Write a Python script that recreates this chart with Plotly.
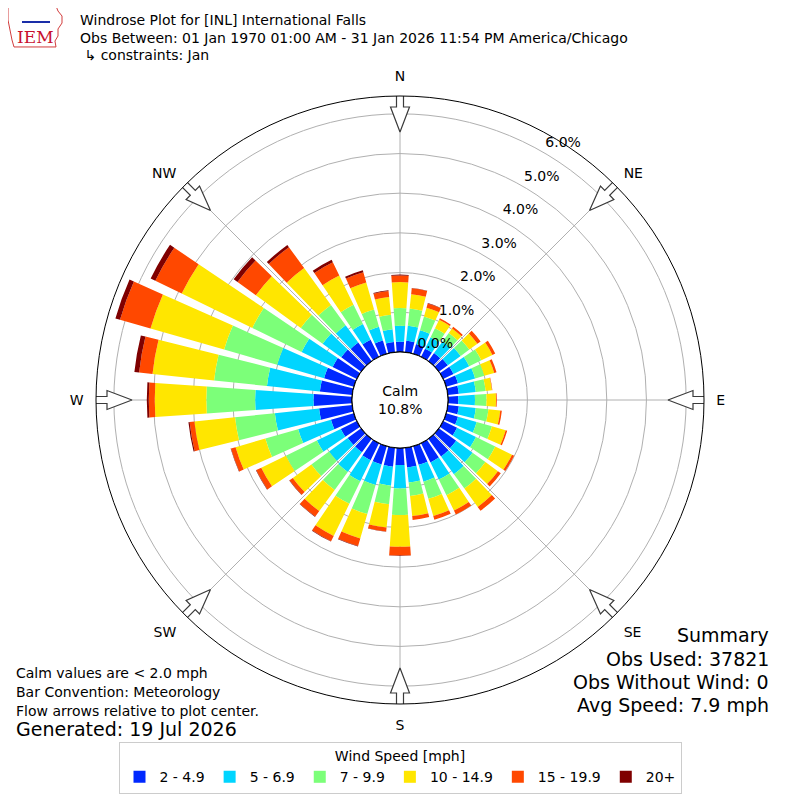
import numpy as np
import plotly.graph_objects as go

# wind direction bins (degrees, meteorological: direction wind blows from)
directions = list(range(0, 360, 10))

speed_bins = ["2 - 4.9", "5 - 6.9", "7 - 9.9", "10 - 14.9", "15 - 19.9", "20+"]
bin_colors = ["#0028ff", "#00d5ff", "#7cff79", "#ffe600", "#ff4800", "#7f0000"]

# frequency [%] for each speed bin, one value per direction (0, 10, ... 350)
freq_2_5 = [0.26, 0.29, 0.26, 0.23, 0.25, 0.28, 0.29, 0.31, 0.28, 0.26, 0.28, 0.31,
            0.39, 0.54, 0.55, 0.54, 0.49, 0.50, 0.43, 0.48, 0.48, 0.48, 0.42, 0.42,
            0.45, 0.60, 0.84, 0.97, 0.82, 0.78, 0.68, 0.62, 0.58, 0.48, 0.35, 0.26]
freq_5_7 = [0.40, 0.38, 0.36, 0.32, 0.37, 0.40, 0.44, 0.45, 0.43, 0.42, 0.43, 0.49,
            0.53, 0.51, 0.55, 0.48, 0.44, 0.38, 0.59, 0.48, 0.54, 0.59, 0.61, 0.58,
            0.67, 0.86, 1.12, 1.47, 1.34, 1.23, 0.87, 0.58, 0.54, 0.44, 0.36, 0.32]
freq_7_10 = [0.45, 0.44, 0.36, 0.25, 0.26, 0.27, 0.34, 0.24, 0.25, 0.29, 0.32, 0.40,
             0.54, 0.40, 0.45, 0.44, 0.45, 0.34, 0.67, 0.47, 0.76, 0.63, 0.56, 0.55,
             0.87, 0.86, 1.01, 1.23, 1.34, 1.39, 1.38, 0.68, 0.63, 0.54, 0.45, 0.37]
freq_10_15 = [0.65, 0.36, 0.23, 0.24, 0.14, 0.25, 0.31, 0.26, 0.16, 0.24, 0.30, 0.36,
              0.47, 0.39, 0.57, 0.43, 0.45, 0.51, 0.80, 0.59, 0.64, 0.90, 0.66, 0.58,
              0.69, 0.78, 1.03, 1.30, 1.56, 1.93, 1.98, 1.40, 1.15, 0.82, 0.71, 0.45]
freq_15_20 = [0.17, 0.15, 0.11, 0.04, 0.05, 0.10, 0.08, 0.06, 0.01, 0.02, 0.04, 0.04,
              0.06, 0.09, 0.12, 0.11, 0.10, 0.10, 0.22, 0.10, 0.20, 0.15, 0.17, 0.10,
              0.14, 0.12, 0.12, 0.15, 0.34, 0.80, 0.74, 0.57, 0.65, 0.37, 0.27, 0.15]
freq_20_up = [0.02, 0.01, 0.01, 0.00, 0.00, 0.00, 0.00, 0.00, 0.00, 0.00, 0.00, 0.00,
              0.00, 0.00, 0.00, 0.00, 0.00, 0.00, 0.01, 0.01, 0.01, 0.01, 0.01, 0.01,
              0.01, 0.01, 0.03, 0.05, 0.12, 0.12, 0.13, 0.12, 0.07, 0.07, 0.05, 0.02]

radial_ticks = [0, 1, 2, 3, 4, 5, 6]
radial_labels = ["0.0%", "1.0%", "2.0%", "3.0%", "4.0%", "5.0%", "6.0%"]

compass_angles = [0, 45, 90, 135, 180, 225, 270, 315]
compass_labels = ["N", "NE", "E", "SE", "S", "SW", "W", "NW"]

calm_pct = 10.8
R_MAX = 6.45          # radial range shown [%]
HOLE = 0.158          # calm hub as fraction of the radius
HUB_PX = 48.0
PX_PER_PCT = (304.0 - HUB_PX) / R_MAX
PAGE_MARGIN = 8       # browser body margin around the plot div

all_bins = [freq_2_5, freq_5_7, freq_7_10, freq_10_15, freq_15_20, freq_20_up]

fig = go.Figure()

for name, color, vals in zip(speed_bins, bin_colors, all_bins):
    fig.add_trace(go.Barpolar(
        r=vals, theta=directions, width=8,
        name=name, marker=dict(color=color, line=dict(width=0)),
        hoverinfo="skip",
    ))

# black edge of the calm hub
hub_theta = np.linspace(0, 360, 181)
fig.add_trace(go.Scatterpolar(
    r=np.zeros_like(hub_theta), theta=hub_theta, mode="lines",
    line=dict(color="black", width=1.2), showlegend=False, hoverinfo="skip",
))


def px_to_r(p):
    return (p - HUB_PX) / PX_PER_PCT


# hollow flow arrows at the compass points (pixel outline: radial, lateral)
arrow_outline = [(306, -3.5), (293, -3.5), (293, -9.5), (268, 0), (293, 9.5),
                 (293, 3.5), (306, 3.5), (306, -3.5)]
for ang in compass_angles:
    rr = [px_to_r(np.hypot(s, w)) for s, w in arrow_outline]
    tt = [ang + np.degrees(np.arctan2(w, s)) for s, w in arrow_outline]
    fig.add_trace(go.Scatterpolar(
        r=rr, theta=tt, mode="lines", fill="toself", fillcolor="white",
        line=dict(color="#3a3a3a", width=1.2), showlegend=False,
        hoverinfo="skip", cliponaxis=False,
    ))

# radial tick labels
fig.add_trace(go.Scatterpolar(
    r=[v + 0.44 for v in radial_ticks], theta=[32.5] * len(radial_ticks),
    mode="text", text=radial_labels, textfont=dict(size=14, color="black"),
    showlegend=False, hoverinfo="skip", cliponaxis=False,
))


def px(x, y):
    # reference pixel position -> paper coordinates
    return (x - PAGE_MARGIN) / 800.0, 1 - (y - PAGE_MARGIN) / 800.0


cx, cy = px(400, 400)
rad = 304.0 / 800.0

fig.update_layout(
    width=800, height=800,
    margin=dict(l=0, r=0, t=0, b=0),
    paper_bgcolor="white",
    font=dict(family="DejaVu Sans", size=14, color="black"),
    polar=dict(
        domain=dict(x=[cx - rad, cx + rad], y=[cy - rad, cy + rad]),
        hole=HOLE,
        bgcolor="white",
        barmode="stack",
        radialaxis=dict(
            range=[0, R_MAX], tickvals=radial_ticks[1:], showticklabels=False,
            ticks="", showline=False, gridcolor="#b0b0b0", gridwidth=1,
        ),
        angularaxis=dict(
            direction="clockwise", rotation=90,
            tickmode="array", tickvals=compass_angles, ticktext=compass_labels,
            ticks="outside", ticklen=9, tickcolor="rgba(0,0,0,0)",
            tickfont=dict(size=14),
            showline=True, linecolor="black", linewidth=1,
            gridcolor="#b0b0b0", gridwidth=1,
        ),
    ),
    legend=dict(
        orientation="h", x=px(400, 742)[0], xanchor="center",
        y=px(400, 742)[1], yanchor="top",
        bgcolor="white", bordercolor="#cccccc", borderwidth=1,
        font=dict(size=14),
        title=dict(text="Wind Speed [mph]", side="top center", font=dict(size=14)),
    ),
)


def add_text(text, x, y, size=14, anchor="left", **kw):
    ax, ay = px(x, y)
    fig.add_annotation(text=text, x=ax, y=ay, xref="paper", yref="paper",
                       xanchor=anchor, yanchor="middle", showarrow=False,
                       font=dict(size=size, **kw))


add_text("Windrose Plot for [INL] International Falls", 78, 20)
add_text("Obs Between: 01 Jan 1970 01:00 AM - 31 Jan 2026 11:54 PM America/Chicago", 78, 38)
add_text(" \u21b3 constraints: Jan", 78, 55)

fig.add_annotation(text="Calm<br>%.1f%%" % calm_pct, x=cx, y=cy, xref="paper", yref="paper",
                   showarrow=False, align="center", font=dict(size=14))

add_text("Calm values are < 2.0 mph", 14, 673)
add_text("Bar Convention: Meteorology", 14, 692)
add_text("Flow arrows relative to plot center.", 14, 711)
add_text("Generated: 19 Jul 2026", 14, 729, size=19)

add_text("Summary", 771, 635, size=19, anchor="right")
add_text("Obs Used: 37821", 771, 659, size=19, anchor="right")
add_text("Obs Without Wind: 0", 771, 682, size=19, anchor="right")
add_text("Avg Speed: 7.9 mph", 771, 705, size=19, anchor="right")

# rough IEM logo: state outline plus lettering
outline = [(8, 6), (56, 6), (58, 11), (62, 16), (62, 23), (58, 29), (58, 36),
           (55, 41), (56, 47), (14, 47), (12, 40), (10, 30), (8, 20)]
path = "M " + " L ".join("%.4f,%.4f" % px(x, y) for x, y in outline) + " Z"
fig.add_shape(type="path", path=path, xref="paper", yref="paper",
              line=dict(color="#d23c3c", width=1))
add_text("IEM", 15, 37, size=17, family="DejaVu Serif", color="#c8102e")
lx0, ly0 = px(22, 22)
lx1, _ = px(50, 22)
fig.add_shape(type="line", x0=lx0, x1=lx1, y0=ly0, y1=ly0,
              xref="paper", yref="paper", line=dict(color="#1a2ea8", width=2))

fig.write_html("out.html")
